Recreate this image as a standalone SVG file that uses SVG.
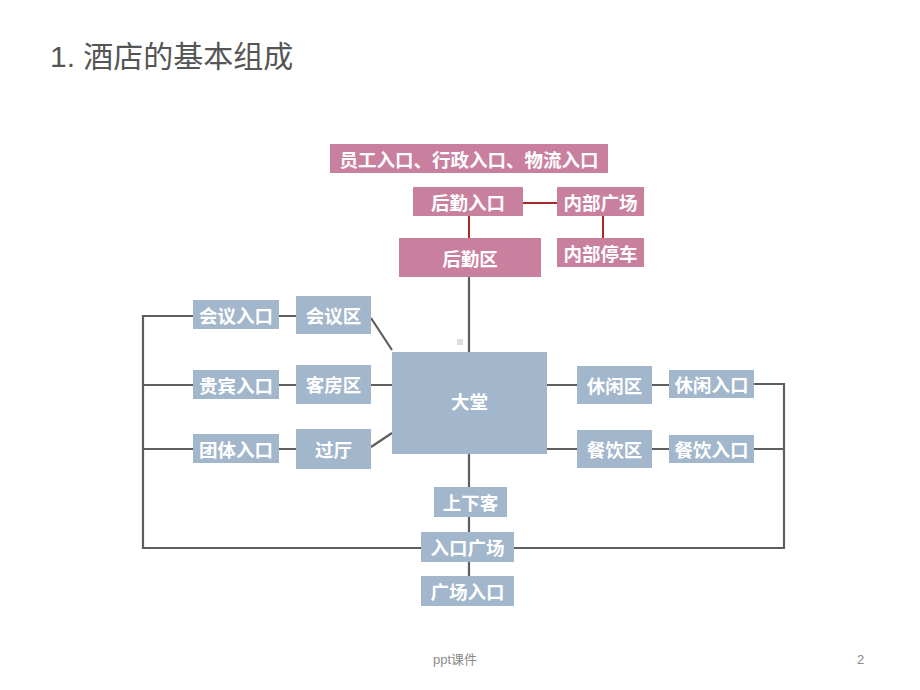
<svg xmlns="http://www.w3.org/2000/svg" width="920" height="690" viewBox="0 0 920 690">
<style>
.pk{fill:#C9809F}
.bl{fill:#A2B6CC}
.t{font-family:"Noto Sans CJK SC","Noto Sans",sans-serif;font-size:18.5px;font-weight:700;fill:#fff;text-anchor:middle;dominant-baseline:central}
.ln{stroke:#5E5E5E;stroke-width:2.2;fill:none}
.rl{stroke:#A52A2A;stroke-width:2;fill:none}
</style>
<rect width="920" height="690" fill="#fff"/>
<text x="50" y="67" font-family="'Liberation Sans','Noto Sans CJK SC',sans-serif" font-size="30" fill="#555555">1. 酒店的基本组成</text>
<g id="connectors">
<path class="rl" d="M523 203H557M469 216V238M603 216V238"/>
<path class="ln" d="M469 277V352M469 454V487M469 517V532M469 562V576"/>
<path class="ln" d="M279 316H296M279 385H296M279 449H296"/>
<path class="ln" d="M193 316H143V548H421M514 548H784V384H754M754 449H784"/>
<path class="ln" d="M143 385H193M143 449H193"/>
<path class="ln" d="M371 318L392 350M371 385H392M371 447L392 433"/>
<path class="ln" d="M547 385H577M652 385H669M547 449H577M652 449H669"/>
</g>
<rect x="457" y="339" width="6" height="6" fill="#DDDDDD"/>
<g id="n_entries"><rect class="pk" x="330" y="144" width="278" height="29"/><text class="t" x="469" y="158.5">员工入口、行政入口、物流入口</text></g>
<g id="n_houqin_in"><rect class="pk" x="413" y="187" width="110" height="29"/><text class="t" x="468" y="201.5">后勤入口</text></g>
<g id="n_neibu_gc"><rect class="pk" x="557" y="187" width="87" height="29"/><text class="t" x="600.5" y="201.5">内部广场</text></g>
<g id="n_houqin"><rect class="pk" x="399" y="238" width="142" height="39"/><text class="t" x="470" y="257.5">后勤区</text></g>
<g id="n_neibu_tc"><rect class="pk" x="557" y="238" width="87" height="29"/><text class="t" x="600.5" y="252.5">内部停车</text></g>
<g id="n_datang"><rect class="bl" x="392" y="352" width="155" height="102"/><text class="t" x="469.5" y="401">大堂</text></g>
<g id="n_huiyi_in"><rect class="bl" x="193" y="300" width="86" height="29"/><text class="t" x="236" y="314.5">会议入口</text></g>
<g id="n_huiyi"><rect class="bl" x="296" y="296" width="75" height="38"/><text class="t" x="333.5" y="315">会议区</text></g>
<g id="n_guibin_in"><rect class="bl" x="193" y="370" width="86" height="29"/><text class="t" x="236" y="384.5">贵宾入口</text></g>
<g id="n_kefang"><rect class="bl" x="296" y="365" width="75" height="39"/><text class="t" x="333.5" y="384">客房区</text></g>
<g id="n_tuanti_in"><rect class="bl" x="193" y="434" width="86" height="29"/><text class="t" x="236" y="448.5">团体入口</text></g>
<g id="n_guoting"><rect class="bl" x="296" y="429" width="75" height="40"/><text class="t" x="333.5" y="449">过厅</text></g>
<g id="n_xiuxian"><rect class="bl" x="577" y="366" width="75" height="38"/><text class="t" x="614.5" y="385">休闲区</text></g>
<g id="n_xiuxian_in"><rect class="bl" x="669" y="370" width="85" height="28"/><text class="t" x="711.5" y="384">休闲入口</text></g>
<g id="n_canyin"><rect class="bl" x="577" y="430" width="75" height="38"/><text class="t" x="614.5" y="449">餐饮区</text></g>
<g id="n_canyin_in"><rect class="bl" x="669" y="435" width="85" height="28"/><text class="t" x="711.5" y="449">餐饮入口</text></g>
<g id="n_shangxia"><rect class="bl" x="434" y="487" width="73" height="30"/><text class="t" x="470.5" y="502">上下客</text></g>
<g id="n_rukou_gc"><rect class="bl" x="421" y="532" width="93" height="30"/><text class="t" x="467.5" y="547">入口广场</text></g>
<g id="n_gc_rukou"><rect class="bl" x="421" y="576" width="93" height="30"/><text class="t" x="467.5" y="591">广场入口</text></g>
<text x="433" y="664" font-family="'Liberation Sans','Noto Sans CJK SC',sans-serif" font-size="13" fill="#8A8A8A">ppt课件</text>
<text x="857" y="664" font-family="'Liberation Sans',sans-serif" font-size="13" fill="#8A8A8A">2</text>
</svg>
